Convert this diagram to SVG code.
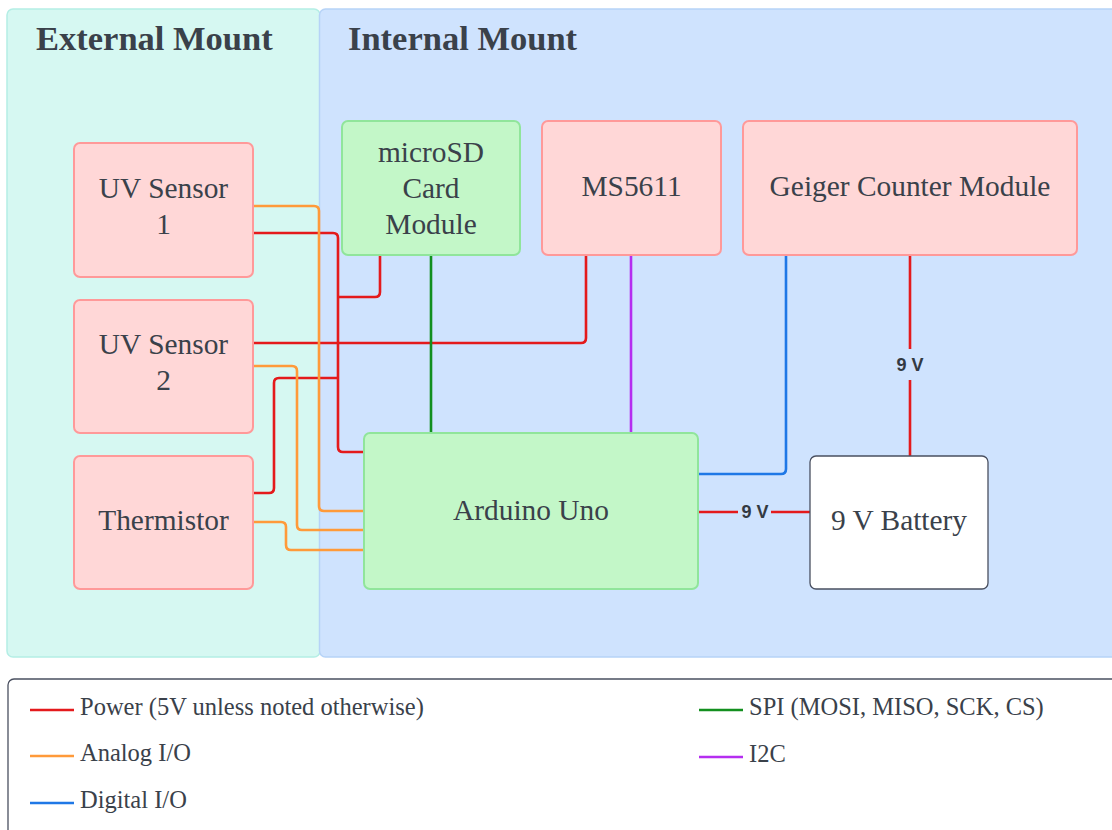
<svg xmlns="http://www.w3.org/2000/svg" width="1112" height="830" viewBox="0 0 1112 830">
<style>
.title{font-family:"Liberation Serif",serif;font-weight:bold;font-size:34.5px;fill:#3a414a}
.lbl{font-family:"Liberation Serif",serif;font-size:29.4px;fill:#3a414a;text-anchor:middle}
.leg{font-family:"Liberation Serif",serif;font-size:24.5px;fill:#3a414a}
.v{font-family:"Liberation Sans",sans-serif;font-weight:bold;font-size:18px;fill:#333a42;text-anchor:middle}
.red{fill:#ffd7d7;stroke:#ff9999;stroke-width:2}
.grn{fill:#c3f7c8;stroke:#90e59b;stroke-width:2}
.c{fill:none;stroke-width:2.6;stroke-linejoin:round}
.pw{stroke:#e41a1c}.an{stroke:#ff9a3a}.dg{stroke:#1f78e6}.sp{stroke:#138f1f}.i2{stroke:#b52ef0}
</style>
<rect width="1112" height="830" fill="#ffffff"/>
<g id="external-mount">
<rect x="7" y="9" width="313" height="648" rx="6" fill="#d6f8f2" stroke="#b4eee5" stroke-width="1.5"/>
<text class="title" x="36" y="50">External Mount</text>
</g>
<g id="internal-mount">
<rect x="319.5" y="9" width="800" height="648" rx="6" fill="#cfe3fe" stroke="#b6d3f7" stroke-width="1.5"/>
<text class="title" x="348" y="50">Internal Mount</text>
</g>
<g id="connectors">
<path class="c pw" d="M253,233 H333 Q338,233 338,238 V447 Q338,452 343,452 H364"/>
<path class="c pw" d="M380,255 V292 Q380,297 375,297 H338"/>
<path class="c pw" d="M253,343 H581 Q586,343 586,338 V255"/>
<path class="c pw" d="M253,493 H269 Q274,493 274,488 V383 Q274,378 279,378 H338"/>
<path class="c pw" d="M910,255 V456"/>
<path class="c pw" d="M698,512 H810"/>
<path class="c an" d="M253,206 H314 Q319,206 319,211 V506 Q319,511 324,511 H364"/>
<path class="c an" d="M253,366 H292 Q297,366 297,371 V525 Q297,530 302,530 H364"/>
<path class="c an" d="M253,522 H281 Q286,522 286,527 V545 Q286,550 291,550 H364"/>
<path class="c sp" d="M431,255 V433"/>
<path class="c i2" d="M631,255 V433"/>
<path class="c dg" d="M786,255 V469 Q786,474 781,474 H698"/>
<rect x="738" y="500" width="33" height="24" fill="#cfe3fe"/>
<text class="v" x="755" y="518">9 V</text>
<rect x="894" y="349" width="32" height="31" fill="#cfe3fe"/>
<text class="v" x="910" y="371">9 V</text>
</g>
<g id="uv-sensor-1">
<rect class="red" x="74" y="143" width="179" height="134" rx="6"/>
<text class="lbl" x="163.5" y="198">UV Sensor</text>
<text class="lbl" x="163.5" y="234">1</text>
</g>
<g id="uv-sensor-2">
<rect class="red" x="74" y="300" width="179" height="133" rx="6"/>
<text class="lbl" x="163.5" y="354">UV Sensor</text>
<text class="lbl" x="163.5" y="390">2</text>
</g>
<g id="thermistor">
<rect class="red" x="74" y="456" width="179" height="133" rx="6"/>
<text class="lbl" x="163.5" y="530">Thermistor</text>
</g>
<g id="microsd">
<rect class="grn" x="342" y="121" width="178" height="134" rx="6"/>
<text class="lbl" x="431" y="162">microSD</text>
<text class="lbl" x="431" y="198">Card</text>
<text class="lbl" x="431" y="234">Module</text>
</g>
<g id="ms5611">
<rect class="red" x="542" y="121" width="179" height="134" rx="6"/>
<text class="lbl" x="631.5" y="196">MS5611</text>
</g>
<g id="geiger">
<rect class="red" x="743" y="121" width="334" height="134" rx="6"/>
<text class="lbl" x="910" y="196">Geiger Counter Module</text>
</g>
<g id="arduino">
<rect class="grn" x="364" y="433" width="334" height="156" rx="6"/>
<text class="lbl" x="531" y="520">Arduino Uno</text>
</g>
<g id="battery">
<rect x="810" y="456" width="178" height="133" rx="6" fill="#ffffff" stroke="#4a5060" stroke-width="1.3"/>
<text class="lbl" x="899" y="530">9 V Battery</text>
</g>
<g id="legend">
<rect x="8" y="679" width="1120" height="170" rx="6" fill="#ffffff" stroke="#4a5060" stroke-width="1.3"/>
<line x1="30" y1="710" x2="74" y2="710" class="c pw" stroke-width="2"/>
<text class="leg" x="80" y="715">Power (5V unless noted otherwise)</text>
<line x1="30" y1="756" x2="74" y2="756" class="c an" stroke-width="2"/>
<text class="leg" x="80" y="761">Analog I/O</text>
<line x1="30" y1="803" x2="74" y2="803" class="c dg" stroke-width="2"/>
<text class="leg" x="80" y="808">Digital I/O</text>
<line x1="699" y1="710" x2="743" y2="710" class="c sp" stroke-width="2"/>
<text class="leg" x="749" y="715">SPI (MOSI, MISO, SCK, CS)</text>
<line x1="699" y1="757" x2="743" y2="757" class="c i2" stroke-width="2"/>
<text class="leg" x="749" y="762">I2C</text>
</g>
</svg>
